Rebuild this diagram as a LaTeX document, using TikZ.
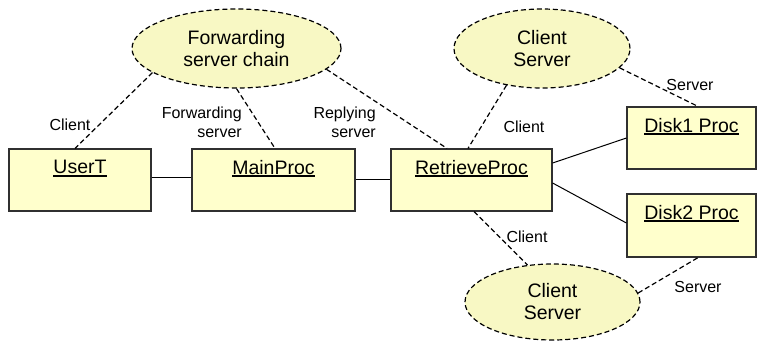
\documentclass[tikz,border=0pt]{standalone}
\usepackage{fontspec}
\setmainfont{Liberation Sans}
\usetikzlibrary{shapes.geometric}
\definecolor{boxfill}{HTML}{FFFFCC}
\definecolor{ovalfill}{HTML}{F8F8C4}
\definecolor{edge}{HTML}{303030}
% underlined object name
\newcommand\objname[1]{\setbox0\hbox{#1}\rlap{\rule[-2.8pt]{\wd0}{1.6pt}}\box0}
\tikzset{
  objbox/.style={draw=edge, line width=1.2pt, fill=boxfill, minimum height=62pt, inner sep=0pt},
  objlabel/.style={font=\fontsize{19.5}{22}\selectfont, anchor=center, yshift=-20pt},
  collab/.style={ellipse, draw=black, line width=1.2pt, dash pattern=on 5pt off 3pt, fill=ovalfill,
                 align=center, inner sep=0pt, font=\fontsize{19.5}{22}\selectfont},
  rolelink/.style={draw=black, line width=1.2pt, dash pattern=on 5pt off 3pt},
  assoc/.style={draw=black, line width=1pt},
  role/.style={font=\fontsize{16}{19}\selectfont, inner sep=0pt},
}
\begin{document}
\begin{tikzpicture}[x=1pt,y=-1pt]
\useasboundingbox (0,0) rectangle (758,341);

% collaborations
\node[collab, minimum width=209pt, minimum height=79pt] (fwd) at (236.5,48.5) {Forwarding\\server chain};
\node[collab, minimum width=176pt, minimum height=79pt] (cs1) at (542,48.5) {Client\\Server};
\node[collab, minimum width=175pt, minimum height=76pt] (cs2) at (552.5,302) {Client\\Server};

% objects
\node[objbox, minimum width=142pt, label={[objlabel, name=usertl]north:\objname{UserT}}] (usert) at (80,180) {};
\node[objbox, minimum width=163pt, label={[objlabel, name=mainl]north:\objname{MainProc}}] (main) at (273.5,180) {};
\node[objbox, minimum width=161pt, label={[objlabel, name=retrl]north:\objname{RetrieveProc}}] (retr) at (471.5,180) {};
\node[objbox, minimum width=129pt, label={[objlabel, name=disk1l]north:\objname{Disk1 Proc}}] (disk1) at (691.5,138) {};
\node[objbox, minimum width=129pt, minimum height=63pt, label={[objlabel, name=disk2l]north:\objname{Disk2 Proc}}] (disk2) at (691.5,225.5) {};

% links between objects
\draw[assoc] ([yshift=3pt]usert.east) -- ([yshift=3pt]main.west);
\draw[assoc] ([yshift=1pt]main.east) -- ([yshift=1pt]retr.west);
\draw[assoc] ([yshift=17pt]retr.east) -- (disk1.west);
\draw[assoc] ([yshift=-3pt]retr.east) -- ([yshift=2.5pt]disk2.west);

% role bindings
\draw[rolelink] (fwd.196) -- ([xshift=-5pt]usert.north);
\draw[rolelink] (fwd.south) -- ([xshift=1.5pt]main.north);
\draw[rolelink] (fwd.-13) -- ([xshift=-24.5pt]retr.north);
\draw[rolelink] (cs1.226) -- ([xshift=-3.5pt]retr.north);
\draw[rolelink] (cs1.-14) -- ([xshift=6.5pt]disk1.north);
\draw[rolelink] ([xshift=2.5pt]retr.south) -- (cs2.124.6);
\draw[rolelink] (cs2.6.7) -- ([xshift=6.5pt]disk2.south);

% role names
\node[role] (r1) at (70,125) {Client};
\node[role, align=right, anchor=east] (r2) at (242,122) {Forwarding\\server};
\node[role, align=right, anchor=east] (r3) at (376,122) {Replying\\server};
\node[role] (r4) at (524,127) {Client};
\node[role] (r5) at (690,85) {Server};
\node[role] (r6) at (527,237) {Client};
\node[role] (r7) at (698,287) {Server};
\end{tikzpicture}
\end{document}
